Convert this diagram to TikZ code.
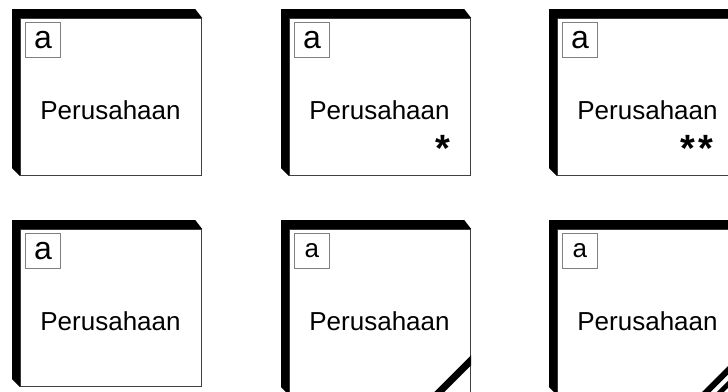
\documentclass[tikz,border=0pt]{standalone}
\usepackage{fontspec}
\setmainfont{Liberation Sans}
\usetikzlibrary{positioning}
\tikzset{
  face/.style={draw=black!75, line width=1.2pt, fill=white, minimum width=181pt, inner sep=0pt, anchor=north west},
  tagbox/.style={draw=gray, line width=0.9pt, minimum size=35pt, inner sep=0pt, anchor=north west},
  entname/.style={anchor=base, inner sep=0pt, font=\fontsize{26}{26}\selectfont},
  starmark/.style={anchor=base east, inner sep=0pt, font=\bfseries\fontsize{38}{38}\selectfont},
  cornerline/.style={draw=black, line width=7pt}
}
\begin{document}
\begin{tikzpicture}[x=1pt,y=-1pt]
    \useasboundingbox (0,0) rectangle (728,391);
    \clip (0,0) rectangle (728,391);
    \foreach \x/\y/\h/\s/\n in {20/18/157/32/a1, 289/18/157/32/a2, 557/18/157/32/a3, 20/229/157/32/b1, 289/229/165/26/b2, 557/229/165/26/b3}
        {\node[face, minimum height=\h pt] (f\n) at (\x,\y) {};
        \fill[black] (f\n.south west) -- ([shift={(-8,-8)}]f\n.south west) -- ([shift={(-8,-9)}]f\n.north west)
            -- ([shift={(-7,-9)}]f\n.north east) -- (f\n.north east) -- (f\n.north west) -- cycle;
        \node[tagbox, font=\fontsize{\s}{\s}\selectfont] (t\n) at ([shift={(5,4)}]f\n.north west) {a};
        \node[entname] (p\n) at ([shift={(90.5,101)}]f\n.north west) {Perusahaan};}

    \node[starmark] (sa2) at ([shift={(1,42)}]pa2.base east) {*};
    \node[starmark] (sa3) at ([shift={(-4,42)}]pa3.base east) {*\kern4pt*};

    \begin{scope}
        \clip (fb2.south west) rectangle (fb2.north east);
        \draw[cornerline] ([shift={(10,-45)}]fb2.south east) -- ([shift={(-45,10)}]fb2.south east);
    \end{scope}
    \begin{scope}
        \clip (fb3.south west) rectangle (fb3.north east);
        \draw[cornerline, line width=6pt] ([shift={(10,-46)}]fb3.south east) -- ([shift={(-46,10)}]fb3.south east);
        \draw[cornerline, line width=5pt] ([shift={(10,-32)}]fb3.south east) -- ([shift={(-32,10)}]fb3.south east);
    \end{scope}
\end{tikzpicture}
\end{document}
